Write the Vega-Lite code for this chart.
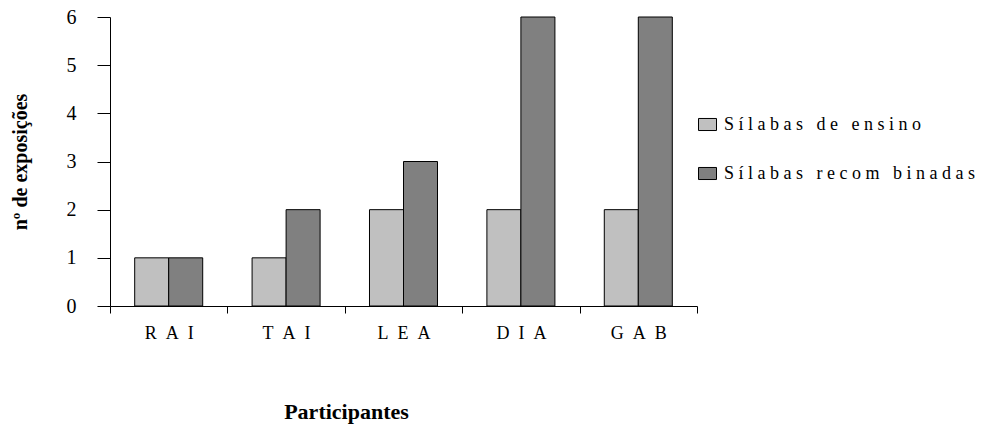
{
  "$schema": "https://vega.github.io/schema/vega-lite/v6.json",
  "width": 587,
  "height": 289,
  "autosize": "none",
  "padding": {"left": 110, "top": 17, "right": 285, "bottom": 119},
  "background": "white",
  "data": {
    "values": [
      {"participant": "RAI", "type": "Sílabas de ensino", "value": 1},
      {"participant": "RAI", "type": "Sílabas recombinadas", "value": 1},
      {"participant": "TAI", "type": "Sílabas de ensino", "value": 1},
      {"participant": "TAI", "type": "Sílabas recombinadas", "value": 2},
      {"participant": "LEA", "type": "Sílabas de ensino", "value": 2},
      {"participant": "LEA", "type": "Sílabas recombinadas", "value": 3},
      {"participant": "DIA", "type": "Sílabas de ensino", "value": 2},
      {"participant": "DIA", "type": "Sílabas recombinadas", "value": 6},
      {"participant": "GAB", "type": "Sílabas de ensino", "value": 2},
      {"participant": "GAB", "type": "Sílabas recombinadas", "value": 6}
    ]
  },
  "mark": {"type": "bar", "stroke": "black", "strokeWidth": 1},
  "encoding": {
    "x": {
      "field": "participant",
      "type": "nominal",
      "sort": ["RAI", "TAI", "LEA", "DIA", "GAB"],
      "scale": {"paddingInner": 0, "paddingOuter": 0},
      "axis": {
        "title": "Participantes",
        "labelAngle": 0,
        "labelExpr": "join(split(datum.label, ''), '\u00a0\u00a0')",
        "labelFontSize": 18,
        "labelColor": "black",
        "labelPadding": 11,
        "tickBand": "extent",
        "tickSize": 7,
        "tickColor": "black",
        "domainColor": "black",
        "titleFontWeight": "bold",
        "titleFontSize": 22,
        "titleColor": "black",
        "titleX": 236,
        "titleY": 112,
        "titleAlign": "center",
        "titleBaseline": "alphabetic",
        "grid": false
      }
    },
    "xOffset": {
      "field": "type",
      "type": "nominal",
      "scale": {"paddingInner": 0, "paddingOuter": 0.726}
    },
    "y": {
      "field": "value",
      "type": "quantitative",
      "scale": {"domain": [0, 6], "nice": false},
      "axis": {
        "title": "nº de exposições",
        "values": [0, 1, 2, 3, 4, 5, 6],
        "format": "d",
        "grid": false,
        "labelFontSize": 20,
        "labelColor": "black",
        "labelPadding": 21,
        "tickSize": 13,
        "tickColor": "black",
        "domainColor": "black",
        "titleFontWeight": "bold",
        "titleFontSize": 20,
        "titleColor": "black",
        "titleAngle": -90,
        "titleX": -90,
        "titleY": 144.5,
        "titleAlign": "center",
        "titleBaseline": "middle"
      }
    },
    "color": {
      "field": "type",
      "type": "nominal",
      "scale": {
        "domain": ["Sílabas de ensino", "Sílabas recombinadas"],
        "range": ["#c0c0c0", "#808080"]
      },
      "legend": {
        "title": null,
        "orient": "none",
        "legendX": 588,
        "legendY": 98,
        "padding": 0,
        "symbolType": "M-1,-0.67H1V0.67H-1Z",
        "symbolSize": 324,
        "symbolStrokeColor": "black",
        "symbolStrokeWidth": 1,
        "symbolOpacity": 1,
        "labelFont": "Liberation Serif",
        "labelFontSize": 18,
        "labelColor": "black",
        "labelOffset": 7,
        "labelLimit": 400,
        "rowPadding": 30,
        "labelExpr": "datum.label == 'Sílabas de ensino' ? 'S\u00a0í\u00a0l\u00a0a\u00a0b\u00a0a\u00a0s\u00a0\u00a0\u00a0d\u00a0e\u00a0\u00a0\u00a0e\u00a0n\u00a0s\u00a0i\u00a0n\u00a0o' : 'S\u00a0í\u00a0l\u00a0a\u00a0b\u00a0a\u00a0s\u00a0\u00a0\u00a0r\u00a0e\u00a0c\u00a0o\u00a0m\u00a0\u00a0\u00a0b\u00a0i\u00a0n\u00a0a\u00a0d\u00a0a\u00a0s'"
      }
    }
  },
  "config": {
    "font": "Liberation Serif",
    "view": {"stroke": null},
    "axis": {"domainWidth": 1, "tickWidth": 1, "labelFont": "Liberation Serif", "titleFont": "Liberation Serif"},
    "legend": {"labelFont": "Liberation Serif"}
  }
}
